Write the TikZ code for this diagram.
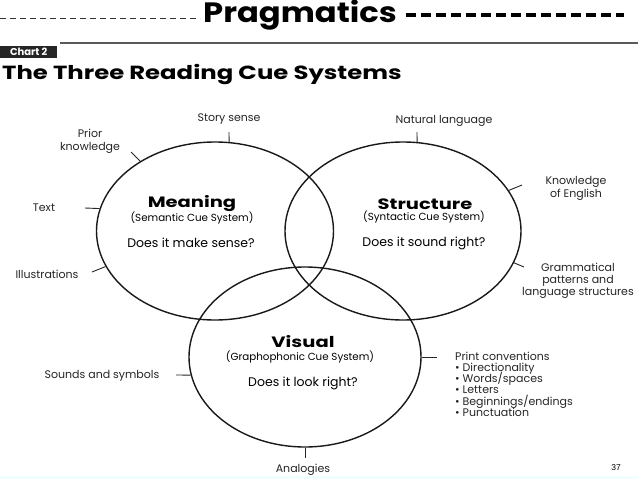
\documentclass[tikz,border=0pt]{standalone}
\usepackage{graphicx}
\usepackage{fontspec}
\setmainfont{Poppins}
\newfontfamily\numfont{Liberation Sans}
\usetikzlibrary{shapes.geometric}
\newcommand{\widen}[2]{\scalebox{#1}[1]{#2}}
\begin{document}
\begin{tikzpicture}[x=1pt,y=-1pt,
  circ/.style={draw=black!90, line width=1.4pt, ellipse, inner sep=0pt},
  tick/.style={draw=black!85, line width=0.9pt},
  lbl/.style={font=\fontsize{11}{13}\selectfont, text=black!85, inner sep=0pt, align=center},
  lst/.style={font=\fontsize{11}{13}\selectfont, text=black!85, inner sep=0pt, anchor=base west},
  head/.style={font=\fontsize{15}{16}\selectfont\bfseries, inner sep=0pt},
  sub/.style={font=\fontsize{10.3}{12}\selectfont, inner sep=0pt},
  quest/.style={font=\fontsize{12.5}{14}\selectfont, inner sep=0pt}]
\useasboundingbox (0,0) rectangle (638,479);
\fill[white] (0,0) rectangle (638,479);
\fill[blue!8!cyan!6] (0,476) rectangle (638,479);
% header
\draw[black!80, line width=1pt, dash pattern=on 6pt off 4pt] (0,18) -- (200,18);
\node[font=\fontsize{28}{30}\selectfont\bfseries, inner sep=0pt] (prag) at (300,15) {\widen{1.15}{Pragmatics}};
\draw[black, line width=3.5pt, dash pattern=on 10pt off 5pt] (406,15) -- (624,15);
\draw[black!65, line width=1.8pt] (60,43) -- (638,43);
\node[fill=black!85, text=white, font=\fontsize{10}{11}\selectfont\bfseries, inner sep=1pt, minimum width=57pt, minimum height=12pt, anchor=north west] (chart) at (0,46) {Chart 2};
\node[font=\fontsize{19}{22}\selectfont\bfseries, inner sep=0pt, anchor=west] (title) at (2,75) {\widen{1.28}{The Three Reading Cue Systems}};
% ellipses
\node[circ, minimum width=237pt, minimum height=178pt] (meaning) at (215,231) {};
\node[circ, minimum width=236pt, minimum height=178pt] (structure) at (403,231) {};
\node[circ, minimum width=232pt, minimum height=180pt] (visual) at (305,357) {};
% centre texts
\node[head] (mh) at (192,204) {\widen{1.3}{Meaning}};
\node[sub] (ms) at (192,218) {(Semantic Cue System)};
\node[quest] (mq) at (191,243) {Does it make sense?};
\node[head] (sh) at (425,204) {\widen{1.3}{Structure}};
\node[sub] (ss) at (424,217) {(Syntactic Cue System)};
\node[quest] (sq) at (424,243) {Does it sound right?};
\node[head] (vh) at (303,342) {\widen{1.3}{Visual}};
\node[sub] (vs) at (300,357) {(Graphophonic Cue System)};
\node[quest] (vq) at (303,383) {Does it look right?};
% tick ends
\coordinate (c1) at (229,132);
\coordinate (c2) at (131,152);
\coordinate (c3) at (85,208);
\coordinate (c4) at (92,272);
\coordinate (c5) at (417,132);
\coordinate (c6) at (522,185);
\coordinate (c7) at (524,267);
\coordinate (c8) at (176,375);
\coordinate (c9) at (437,357);
\coordinate (c10) at (305,458);
\draw[tick] (meaning.81) -- (c1);
\draw[tick] (meaning.137) -- (c2);
\draw[tick] (meaning.169) -- (c3);
\draw[tick] (meaning.198) -- (c4);
\draw[tick] (structure.81) -- (c5);
\draw[tick] (structure.21) -- (c6);
\draw[tick] (structure.-16) -- (c7);
\draw[tick] (visual.189) -- (c8);
\draw[tick] (visual.0) -- (c9);
\draw[tick] (visual.south) -- (c10);
% labels
\node[lbl] (l1) at (229,119) {Story sense};
\node[lbl] (l2) at (90,141) {Prior\\knowledge};
\node[lbl] (l3) at (44,208) {Text};
\node[lbl] (l4) at (47,274) {Illustrations};
\node[lbl] (l5) at (444,121) {Natural language};
\node[lbl] (l6) at (576,188) {Knowledge\\of English};
\node[lbl, font=\fontsize{11}{12}\selectfont] (l7) at (578,281) {Grammatical\\patterns and\\language structures};
\node[lbl] (l8) at (102,376) {Sounds and symbols};
\node[lst] (p0) at (455,360) {Print conventions};
\node[lst] (p1) at (455,371) {\textbullet\ Directionality};
\node[lst] (p2) at (455,382) {\textbullet\ Words/spaces};
\node[lst] (p3) at (455,393) {\textbullet\ Letters};
\node[lst] (p4) at (455,405) {\textbullet\ Beginnings/endings};
\node[lst] (p5) at (455,416) {\textbullet\ Punctuation};
\node[lbl] (l10) at (303,470) {Analogies};
\node[font=\numfont\fontsize{8.5}{10}\selectfont, inner sep=0pt] (pg) at (616,468) {37};
\end{tikzpicture}
\end{document}
